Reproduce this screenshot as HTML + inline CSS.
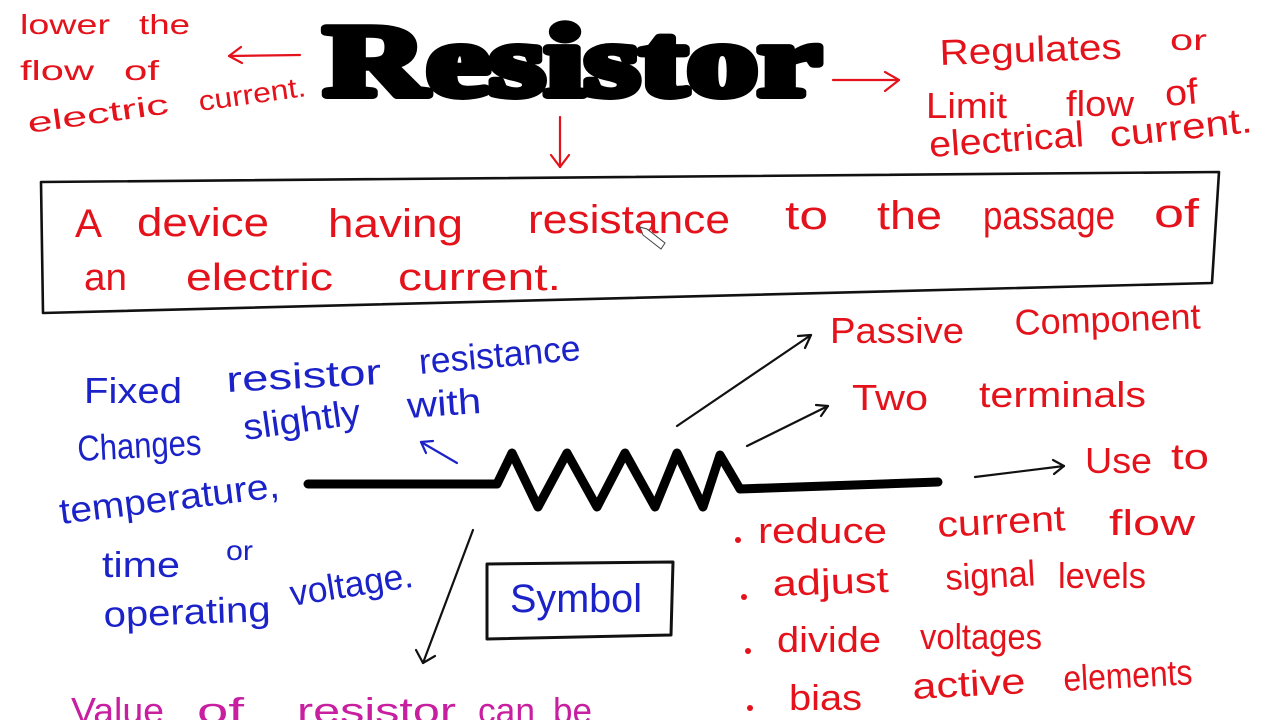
<!DOCTYPE html>
<html>
<head>
<meta charset="utf-8">
<style>
  html,body{margin:0;padding:0;background:#fff;}
  body{width:1280px;height:720px;overflow:hidden;}
  svg{display:block;}
  .hw{font-family:"Liberation Sans",sans-serif;}
  .r{fill:#e3121b;}
  .b{fill:#1a22c8;}
  .m{fill:#c81ea0;}
</style>
</head>
<body>
<svg width="1280" height="720" viewBox="0 0 1280 720" xmlns="http://www.w3.org/2000/svg">
  <rect width="1280" height="720" fill="#fff"/>

  <!-- Title -->
  <text x="324" y="95" style="font-family:'Liberation Serif',serif;font-weight:bold;font-size:102px;" textLength="497" lengthAdjust="spacingAndGlyphs" fill="#000" stroke="#000" stroke-width="8" stroke-linejoin="round">Resistor</text>

  <!-- Top-left red text -->
  <g class="r hw" font-size="28">
    <text x="20" y="34" textLength="90" lengthAdjust="spacingAndGlyphs">lower</text>
    <text x="139" y="34" textLength="51" lengthAdjust="spacingAndGlyphs">the</text>
    <text x="20" y="80" textLength="74" lengthAdjust="spacingAndGlyphs">flow</text>
    <text x="124" y="80" textLength="35" lengthAdjust="spacingAndGlyphs">of</text>
    <text x="29" y="133" textLength="142" lengthAdjust="spacingAndGlyphs" transform="rotate(-8 29 133)">electric</text>
    <text x="200" y="111" textLength="108" lengthAdjust="spacingAndGlyphs" transform="rotate(-8 200 111)">current.</text>
  </g>

  <!-- Top-right red text -->
  <g class="r hw" font-size="36">
    <text x="940" y="65" textLength="182" lengthAdjust="spacingAndGlyphs" transform="rotate(-2 940 65)">Regulates</text>
    <text x="1170" y="50" font-size="30" textLength="37" lengthAdjust="spacingAndGlyphs">or</text>
    <text x="926" y="118" textLength="81" lengthAdjust="spacingAndGlyphs">Limit</text>
    <text x="1066" y="116" textLength="68" lengthAdjust="spacingAndGlyphs">flow</text>
    <text x="1166" y="106" textLength="33" lengthAdjust="spacingAndGlyphs" transform="rotate(-5 1166 106)">of</text>
    <text x="930" y="157" textLength="155" lengthAdjust="spacingAndGlyphs" transform="rotate(-4 930 157)">electrical</text>
    <text x="1111" y="147" textLength="143" lengthAdjust="spacingAndGlyphs" transform="rotate(-6 1111 147)">current.</text>
  </g>

  <!-- Red arrows -->
  <g stroke="#e3121b" stroke-width="2.2" fill="none" stroke-linecap="round" stroke-linejoin="round">
    <line x1="300" y1="55" x2="229" y2="56"/>
    <polyline points="241,47 229,56 242,63"/>
    <line x1="560" y1="117" x2="560" y2="167"/>
    <polyline points="551,155 560,167 569,155"/>
    <line x1="833" y1="80" x2="899" y2="80"/>
    <polyline points="885,72 899,80 885,91"/>
  </g>

  <!-- Main box -->
  <polygon points="41,182 1219,172 1212,283 43,313" fill="none" stroke="#111" stroke-width="2.6" stroke-linejoin="round"/>

  <g class="r hw" font-size="40">
    <text x="75" y="237" textLength="27" lengthAdjust="spacingAndGlyphs">A</text>
    <text x="137" y="236" textLength="132" lengthAdjust="spacingAndGlyphs">device</text>
    <text x="328" y="237" textLength="135" lengthAdjust="spacingAndGlyphs">having</text>
    <text x="528" y="233" textLength="202" lengthAdjust="spacingAndGlyphs">resistance</text>
    <text x="785" y="229" textLength="43" lengthAdjust="spacingAndGlyphs">to</text>
    <text x="877" y="229" textLength="65" lengthAdjust="spacingAndGlyphs">the</text>
    <text x="983" y="229" textLength="132" lengthAdjust="spacingAndGlyphs">passage</text>
    <text x="1154" y="227" textLength="45" lengthAdjust="spacingAndGlyphs">of</text>
  </g>
  <g class="r hw" font-size="38">
    <text x="84" y="290" textLength="43" lengthAdjust="spacingAndGlyphs">an</text>
    <text x="186" y="290" textLength="147" lengthAdjust="spacingAndGlyphs">electric</text>
    <text x="398" y="290" textLength="163" lengthAdjust="spacingAndGlyphs">current.</text>
  </g>

  <!-- pen cursor -->
  <polygon points="640,227 647,229 665,243 661,249 643,235" fill="#fff" stroke="#444" stroke-width="1"/>

  <!-- Blue text -->
  <g class="b hw" font-size="36">
    <text x="84" y="403" textLength="98" lengthAdjust="spacingAndGlyphs">Fixed</text>
    <text x="227" y="392" textLength="155" lengthAdjust="spacingAndGlyphs" transform="rotate(-3 227 392)">resistor</text>
    <text x="420" y="374" textLength="162" lengthAdjust="spacingAndGlyphs" transform="rotate(-5 420 374)">resistance</text>
    <text x="78" y="461" textLength="124" lengthAdjust="spacingAndGlyphs" transform="rotate(-3 78 461)">Changes</text>
    <text x="245" y="440" textLength="118" lengthAdjust="spacingAndGlyphs" transform="rotate(-8 245 440)">slightly</text>
    <text x="408" y="418" textLength="74" lengthAdjust="spacingAndGlyphs" transform="rotate(-4 408 418)">with</text>
    <text x="61" y="524" textLength="221" lengthAdjust="spacingAndGlyphs" transform="rotate(-7 61 524)">temperature,</text>
    <text x="102" y="577" textLength="78" lengthAdjust="spacingAndGlyphs">time</text>
    <text x="226" y="560" font-size="28" textLength="27" lengthAdjust="spacingAndGlyphs">or</text>
    <text x="104" y="627" textLength="167" lengthAdjust="spacingAndGlyphs" transform="rotate(-2 104 627)">operating</text>
    <text x="292" y="606" textLength="124" lengthAdjust="spacingAndGlyphs" transform="rotate(-9 292 606)">voltage.</text>
  </g>

  <!-- Blue arrow -->
  <g stroke="#1a22c8" stroke-width="2.2" fill="none" stroke-linecap="round" stroke-linejoin="round">
    <line x1="457" y1="463" x2="421" y2="442"/>
    <polyline points="426,453 421,442 433,441"/>
  </g>

  <!-- Resistor symbol -->
  <polyline points="308,484 497,484 512,453 538,507 567,453 597,507 625,453 655,507 677,453 703,507 720,455 740,489 938,482" fill="none" stroke="#000" stroke-width="9" stroke-linecap="round" stroke-linejoin="round"/>

  <!-- Symbol box -->
  <polygon points="487,564 673,562 671,635 487,639" fill="none" stroke="#111" stroke-width="3" stroke-linejoin="round"/>
  <text class="b hw" x="510" y="612" font-size="40" textLength="132" lengthAdjust="spacingAndGlyphs">Symbol</text>

  <!-- Black arrows -->
  <g stroke="#111" stroke-width="2.2" fill="none" stroke-linecap="round" stroke-linejoin="round">
    <line x1="473" y1="530" x2="423" y2="663"/>
    <polyline points="416,650 423,663 435,656"/>
    <line x1="677" y1="426" x2="811" y2="335"/>
    <polyline points="798,336 811,335 805,348"/>
    <line x1="747" y1="446" x2="828" y2="406"/>
    <polyline points="816,405 828,406 821,416"/>
    <line x1="975" y1="477" x2="1064" y2="466"/>
    <polyline points="1053,460 1064,466 1054,474"/>
  </g>

  <!-- Right red text -->
  <g class="r hw" font-size="36">
    <text x="830" y="343" textLength="134" lengthAdjust="spacingAndGlyphs">Passive</text>
    <text x="1015" y="335" textLength="186" lengthAdjust="spacingAndGlyphs" transform="rotate(-2 1015 335)">Component</text>
    <text x="852" y="410" textLength="76" lengthAdjust="spacingAndGlyphs">Two</text>
    <text x="979" y="407" textLength="167" lengthAdjust="spacingAndGlyphs">terminals</text>
    <text x="1085" y="473" textLength="67" lengthAdjust="spacingAndGlyphs">Use</text>
    <text x="1171" y="469" textLength="38" lengthAdjust="spacingAndGlyphs">to</text>

    <text x="758" y="543" textLength="129" lengthAdjust="spacingAndGlyphs">reduce</text>
    <text x="938" y="537" textLength="128" lengthAdjust="spacingAndGlyphs" transform="rotate(-3 938 537)">current</text>
    <text x="1109" y="535" textLength="86" lengthAdjust="spacingAndGlyphs">flow</text>

    <text x="773" y="596" textLength="116" lengthAdjust="spacingAndGlyphs" transform="rotate(-2 773 596)">adjust</text>
    <text x="946" y="590" textLength="90" lengthAdjust="spacingAndGlyphs" transform="rotate(-3 946 590)">signal</text>
    <text x="1058" y="588" textLength="88" lengthAdjust="spacingAndGlyphs">levels</text>

    <text x="777" y="652" textLength="104" lengthAdjust="spacingAndGlyphs">divide</text>
    <text x="920" y="649" textLength="122" lengthAdjust="spacingAndGlyphs">voltages</text>

    <text x="789" y="710" textLength="73" lengthAdjust="spacingAndGlyphs">bias</text>
    <text x="913" y="699" textLength="113" lengthAdjust="spacingAndGlyphs" transform="rotate(-3 913 699)">active</text>
    <text x="1064" y="691" textLength="129" lengthAdjust="spacingAndGlyphs" transform="rotate(-3 1064 691)">elements</text>
  </g>
  <g fill="#e3121b">
    <circle cx="738" cy="540" r="3"/>
    <circle cx="744" cy="597" r="3"/>
    <circle cx="748" cy="651" r="3"/>
    <circle cx="750" cy="708" r="3"/>
  </g>

  <!-- Magenta text -->
  <g class="m hw" font-size="36">
    <text x="71" y="723" textLength="93" lengthAdjust="spacingAndGlyphs">Value</text>
    <text x="197" y="723" textLength="47" lengthAdjust="spacingAndGlyphs">of</text>
    <text x="297" y="723" textLength="159" lengthAdjust="spacingAndGlyphs">resistor</text>
    <text x="478" y="723" textLength="57" lengthAdjust="spacingAndGlyphs">can</text>
    <text x="553" y="723" textLength="39" lengthAdjust="spacingAndGlyphs">be</text>
  </g>
</svg>
</body>
</html>
